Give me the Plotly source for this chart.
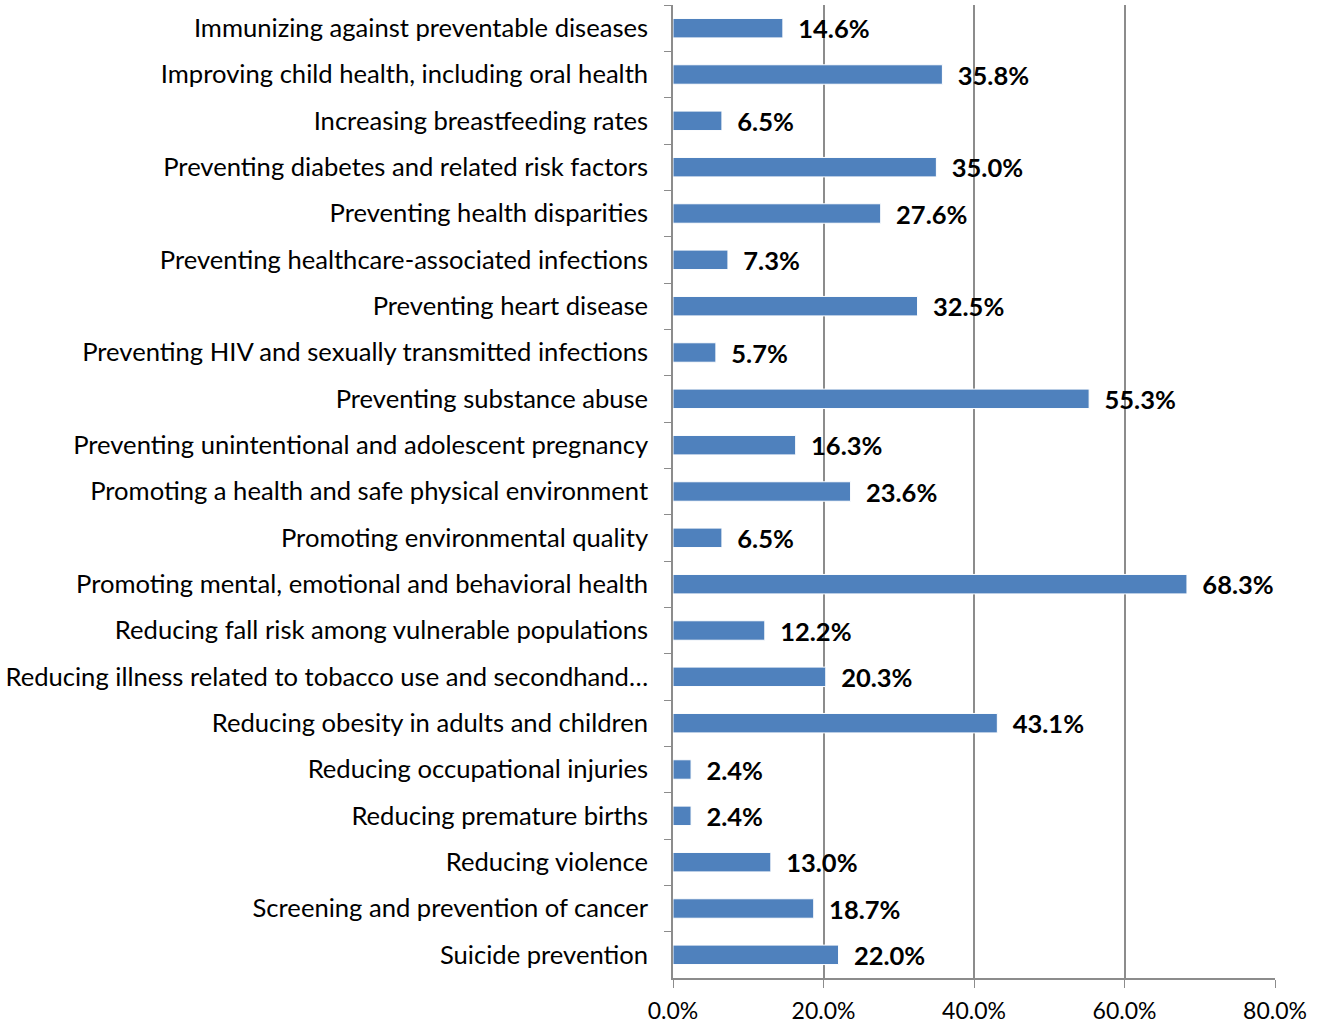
import plotly.graph_objects as go

categories = [
    "Immunizing against preventable diseases",
    "Improving child health, including oral health",
    "Increasing breastfeeding rates",
    "Preventing diabetes and related risk factors",
    "Preventing health disparities",
    "Preventing healthcare-associated infections",
    "Preventing heart disease",
    "Preventing HIV and sexually transmitted infections",
    "Preventing substance abuse",
    "Preventing unintentional and adolescent pregnancy",
    "Promoting a health and safe physical environment",
    "Promoting environmental quality",
    "Promoting mental, emotional and behavioral health",
    "Reducing fall risk among vulnerable populations",
    "Reducing illness related to tobacco use and secondhand…",
    "Reducing obesity in adults and children",
    "Reducing occupational injuries",
    "Reducing premature births",
    "Reducing violence",
    "Screening and prevention of cancer",
    "Suicide prevention",
]
values = [14.6, 35.8, 6.5, 35.0, 27.6, 7.3, 32.5, 5.7, 55.3, 16.3, 23.6,
          6.5, 68.3, 12.2, 20.3, 43.1, 2.4, 2.4, 13.0, 18.7, 22.0]
x_ticks = [0, 20, 40, 60, 80]
x_tick_labels = ["0.0%", "20.0%", "40.0%", "60.0%", "80.0%"]

FONT = "Lato, 'Open Sans', sans-serif"

fig = go.Figure()
fig.add_trace(go.Bar(
    x=values,
    y=categories,
    orientation="h",
    width=0.42,
    marker=dict(color="#4F81BD", line=dict(color="#FFFFFF", width=1)),
    text=["\u00a0\u00a0" + f"{v:.1f}%" for v in values],
    textposition="outside",
    constraintext="none",
    textfont=dict(family=FONT, size=25.5, color="#000000", weight="bold"),
    cliponaxis=False,
    hoverinfo="skip",
))

fig.update_layout(
    width=1325,
    height=1024,
    margin=dict(l=673, r=50, t=5, b=46, autoexpand=False),
    paper_bgcolor="#FFFFFF",
    plot_bgcolor="#FFFFFF",
    showlegend=False,
    font=dict(family=FONT, size=25.6, color="#000000"),
    bargap=0.5,
)
fig.update_xaxes(
    range=[0, 80],
    tickvals=x_ticks,
    ticktext=x_tick_labels,
    showgrid=True,
    gridcolor="#8C8C8C",
    gridwidth=1.5,
    showline=True,
    linecolor="#8C8C8C",
    linewidth=1.5,
    ticks="outside",
    ticklen=8,
    tickcolor="#8C8C8C",
    ticklabelstandoff=4,
    tickfont=dict(family=FONT, size=23, color="#000000"),
    zeroline=False,
    fixedrange=True,
)
fig.update_yaxes(
    autorange="reversed",
    showline=True,
    linecolor="#8C8C8C",
    linewidth=1.5,
    ticks="outside",
    tickson="boundaries",
    ticklen=7,
    tickcolor="#8C8C8C",
    ticklabelstandoff=18,
    tickfont=dict(family=FONT, size=25.6, color="#000000"),
    showgrid=False,
    automargin=False,
    fixedrange=True,
)

fig.write_html(
    "out.html",
    config={"displayModeBar": False},
    post_script="document.body.style.margin='0';document.body.style.padding='0';document.body.style.overflow='hidden';",
)
